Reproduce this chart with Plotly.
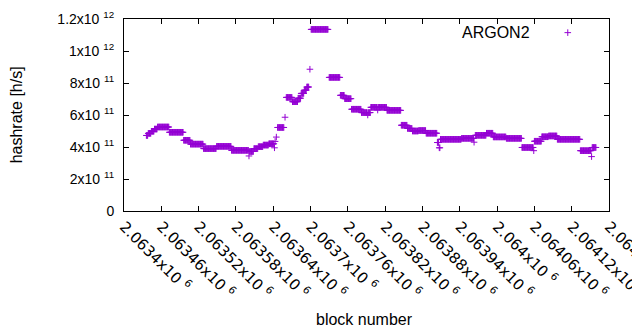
import plotly.graph_objects as go

# Plateaus of the hashrate series: first block, last block, hashrate [h/s]
seg_start = [2063436, 2063439, 2063444, 2063449, 2063454, 2063473, 2063496, 2063507,
             2063528, 2063549, 2063573, 2063601, 2063602, 2063609, 2063616, 2063624,
             2063633, 2063642, 2063643, 2063645, 2063647, 2063659, 2063661, 2063671,
             2063680, 2063685, 2063690, 2063694, 2063699, 2063701, 2063730, 2063748,
             2063755, 2063766, 2063782, 2063792, 2063793, 2063797, 2063808, 2063809,
             2063823, 2063846, 2063856, 2063864, 2063874, 2063886, 2063904, 2063907,
             2063909, 2063943, 2063963, 2063965, 2063983, 2063994, 2064015, 2064040,
             2064059, 2064060, 2064072, 2064083, 2064097, 2064134, 2064152, 2064153]
seg_end = [2063438, 2063443, 2063448, 2063453, 2063472, 2063495, 2063506, 2063527,
           2063548, 2063572, 2063600, 2063601, 2063608, 2063615, 2063623, 2063632,
           2063641, 2063642, 2063643, 2063645, 2063657, 2063659, 2063670, 2063679,
           2063684, 2063689, 2063693, 2063697, 2063699, 2063728, 2063747, 2063754,
           2063765, 2063781, 2063791, 2063792, 2063796, 2063807, 2063808, 2063822,
           2063845, 2063855, 2063863, 2063873, 2063885, 2063903, 2063906, 2063908,
           2063942, 2063962, 2063963, 2063982, 2063993, 2064014, 2064039, 2064058,
           2064059, 2064071, 2064082, 2064096, 2064133, 2064151, 2064152, 2064159]
seg_rate = [4.72e11, 4.85e11, 4.98e11, 5.12e11, 5.25e11, 4.92e11, 4.42e11, 4.18e11,
            3.90e11, 4.04e11, 3.79e11, 3.44e11, 3.72e11, 3.90e11, 4.02e11, 4.12e11,
            4.20e11, 3.95e11, 4.35e11, 4.62e11, 5.22e11, 5.86e11, 7.10e11, 6.83e11,
            7.05e11, 7.35e11, 7.55e11, 7.75e11, 8.86e11, 1.135e12, 8.35e11, 7.23e11,
            7.02e11, 6.36e11, 6.15e11, 6.00e11, 6.15e11, 6.48e11, 6.31e11, 6.48e11,
            6.29e11, 5.36e11, 5.16e11, 5.00e11, 5.03e11, 4.86e11, 4.28e11, 3.95e11,
            4.48e11, 4.54e11, 4.30e11, 4.73e11, 4.86e11, 4.63e11, 4.54e11, 3.97e11,
            3.77e11, 4.36e11, 4.64e11, 4.69e11, 4.48e11, 3.77e11, 3.40e11, 3.97e11]

x_ticks = [2063400, 2063460, 2063520, 2063580, 2063640, 2063700, 2063760,
           2063820, 2063880, 2063940, 2064000, 2064060, 2064120, 2064180]
x_ticktext = ["2.0634", "2.06346", "2.06352", "2.06358", "2.06364", "2.0637", "2.06376",
              "2.06382", "2.06388", "2.06394", "2.064", "2.06406", "2.06412", "2.06418"]
y_ticks = [0, 2e11, 4e11, 6e11, 8e11, 1e12, 1.2e12]
y_ticktext = ["0", "2x10 <sup>11</sup>", "4x10 <sup>11</sup>", "6x10 <sup>11</sup>",
              "8x10 <sup>11</sup>", "1x10 <sup>12</sup>", "1.2x10 <sup>12</sup>"]

# one sample per block (hashrate is constant inside each plateau)
blocks, rates = [], []
for s, e, r in zip(seg_start, seg_end, seg_rate):
    for b in range(s, e + 1):
        blocks.append(b)
        rates.append(r)

COLOR = "#9400D3"
FONT = "Liberation Sans, Arial, sans-serif"

fig = go.Figure()
fig.add_trace(go.Scatter(
    x=blocks, y=rates, mode="markers", showlegend=False,
    marker=dict(symbol="cross-thin", size=4.7, color=COLOR,
                line=dict(width=1, color=COLOR)),
))
# legend sample (gnuplot style: title then sample)
fig.add_trace(go.Scatter(
    x=[0.915], y=[0.929], xaxis="x2", yaxis="y2", mode="markers", showlegend=False,
    marker=dict(symbol="cross-thin", size=4.7, color=COLOR,
                line=dict(width=1, color=COLOR)),
))

# page body has an 8px margin, so the figure is 8px smaller and shifted
fig.update_layout(
    width=632, height=322,
    margin=dict(l=116, r=31, t=11, b=119),
    paper_bgcolor="white", plot_bgcolor="white",
    font=dict(family=FONT, size=14, color="black"),
    xaxis=dict(range=[2063400, 2064180], tickvals=x_ticks,
               ticktext=[t + "x10 <sup>6</sup>" for t in x_ticktext],
               tickangle=45, ticks="inside", ticklen=5, tickcolor="black",
               showline=True, linecolor="black", linewidth=1, mirror="ticks",
               showgrid=False, zeroline=False,
               tickfont=dict(family="DejaVu Sans, sans-serif", size=15),
               ticklabeloverflow="allow", automargin=False),
    yaxis=dict(range=[0, 1.2e12], tickvals=y_ticks, ticktext=y_ticktext,
               ticks="inside", ticklen=5, tickcolor="black",
               showline=True, linecolor="black", linewidth=1, mirror="ticks",
               showgrid=False, zeroline=False, tickfont=dict(size=14),
               ticklabelstandoff=6, automargin=False),
    xaxis2=dict(range=[0, 1], overlaying="x", visible=False),
    yaxis2=dict(range=[0, 1], overlaying="y", visible=False),
    annotations=[
        dict(text="hashrate [h/s]", xref="paper", yref="paper", x=-0.222, y=0.5,
             textangle=-90, showarrow=False, font=dict(size=16),
             xanchor="center", yanchor="middle"),
        dict(text="block number", xref="paper", yref="paper", x=0.495, y=-0.565,
             showarrow=False, font=dict(size=16), xanchor="center", yanchor="middle"),
        dict(text="ARGON2", xref="paper", yref="paper", x=0.841, y=0.929,
             showarrow=False, font=dict(size=16), xanchor="right", yanchor="middle"),
    ],
)

fig.write_html("out.html")
